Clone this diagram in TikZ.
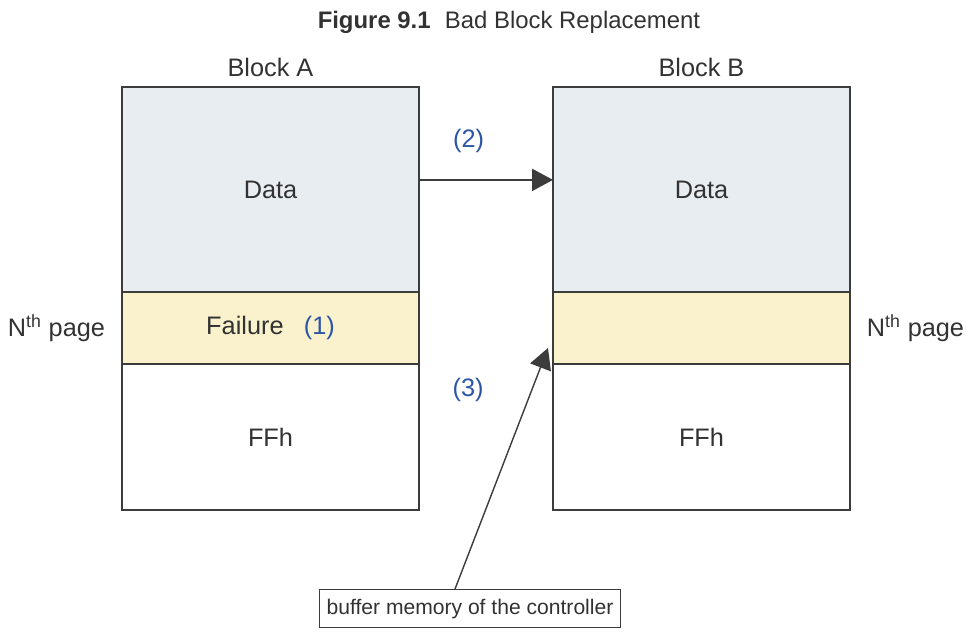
\documentclass[tikz,border=0pt]{standalone}
\usepackage{fontspec}
\setmainfont{Liberation Sans}
\usetikzlibrary{positioning,arrows.meta,calc}
\definecolor{datafill}{RGB}{232,237,241}
\definecolor{failfill}{RGB}{250,241,205}
\definecolor{stepblue}{RGB}{45,85,165}
\definecolor{linegray}{RGB}{60,60,60}
\definecolor{textgray}{RGB}{50,50,50}

\begin{document}
\begin{tikzpicture}[>={Triangle[length=5.2mm,width=5.5mm]},node distance=0pt,
  font=\fontsize{18}{21}\selectfont,text=textgray,
  part/.style={draw=linegray,line width=1.2pt,minimum width=7.425cm,inner sep=0pt,outer sep=0pt},
  datapart/.style={part,fill=datafill,minimum height=5.125cm},
  failpart/.style={part,fill=failfill,minimum height=1.8cm},
  ffhpart/.style={part,fill=white,minimum height=3.65cm},
  steplbl/.style={text=stepblue},
  link/.style={->,draw=linegray,line width=1pt}]
\useasboundingbox (-6.7625,-11.2375) rectangle (17.3875,4.7375);
% block A
\node[datapart] (dataA) at (0,0) {Data};
\node[failpart] (failA) [below=of dataA] {Failure\hspace{0.8em}{\color{stepblue}(1)}};
\node[ffhpart] (ffhA) [below=of failA] {FFh};
\node (nameA) [above=0.12cm of dataA] {Block A};
\node (pageA) [left=0.3cm of failA] {N\textsuperscript{th} page};
% block B
\node[datapart] (dataB) [right=3.35cm of dataA] {Data};
\node[failpart] (failB) [below=of dataB] {};
\node[ffhpart] (ffhB) [below=of failB] {FFh};
\node (nameB) [above=0.12cm of dataB] {Block B};
\node (pageB) [right=0.3cm of failB] {N\textsuperscript{th} page};
% title and buffer
\node[font=\fontsize{17}{20}\selectfont] (title) at (5.96,4.19) {\textbf{Figure 9.1}\hspace{0.6em}Bad Block Replacement};
\node[draw=linegray,line width=0.9pt,minimum width=7.525cm,minimum height=0.95cm,inner sep=0pt,
  font=\fontsize{15}{18}\selectfont] (buffer) at (4.9875,-10.48) {buffer memory of the controller};
\coordinate (bufout) at ($(buffer.north)+(-0.375,0)$);
\coordinate (bufin) at ($(failB.west)+(-0.125,-0.5)$);
% copy steps
\draw[link] ([yshift=0.24cm]dataA.east) -- ([yshift=0.24cm]dataB.west)
  node[steplbl,pos=0.37,above=0.55cm] (two) {(2)};
\draw[link] (bufout) -- (bufin);
\node[steplbl] (three) at (4.94,-5.01) {(3)};
\end{tikzpicture}
\end{document}
